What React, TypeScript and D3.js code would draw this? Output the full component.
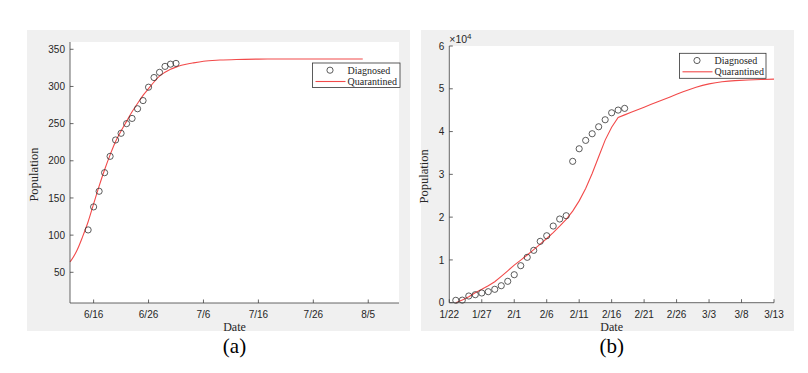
import React from 'react'
import * as d3 from 'd3'

// ---- panel (a): x = days after 6/16 ----
const aTickDays = [0, 10, 20, 30, 40, 50]
const aTickLabels = ['6/16', '6/26', '7/6', '7/16', '7/26', '8/5']
const aYTicks = [50, 100, 150, 200, 250, 300, 350]
const aDiagDays = [-1, 0, 1, 2, 3, 4, 5, 6, 7, 8, 9, 10, 11, 12, 13, 14, 15]
const aDiagnosed = [107, 138, 159, 184, 206, 228, 237, 250, 257, 270, 281, 299, 312, 319, 327, 330, 331]
const aQuarDays = [-4.3, -4, -3, -2, -1, 0, 1, 2, 3, 4, 5, 6, 7, 8, 9, 10, 11, 12, 13, 14, 15, 16, 18, 20, 23, 26, 30, 35, 40, 45, 49]
const aQuarantined = [64, 67, 80, 98, 118, 142, 166, 188, 208, 226, 240, 253, 266, 277, 288, 297, 306, 314, 319, 323, 326, 328.5, 331.5, 334, 335.5, 336.3, 336.8, 337, 337, 337, 337]

// ---- panel (b): x = days after 1/22 ----
const bTickDays = [0, 5, 10, 15, 20, 25, 30, 35, 40, 45, 50]
const bTickLabels = ['1/22', '1/27', '2/1', '2/6', '2/11', '2/16', '2/21', '2/26', '3/3', '3/8', '3/13']
const bYTicks = [0, 10000, 20000, 30000, 40000, 50000, 60000]
const bDiagDays = [1, 2, 3, 4, 5, 6, 7, 8, 9, 10, 11, 12, 13, 14, 15, 16, 17, 18, 19, 20, 21, 22, 23, 24, 25, 26, 27]
const bDiagnosed = [560, 600, 1565, 1870, 2270, 2570, 3130, 3970, 5000, 6540, 8650, 10610, 12240, 14340, 15650, 17920, 19560, 20330, 33040, 35980, 37940, 39490, 41120, 42760, 44390, 45020, 45420]
const bQuarDays = [1, 2, 3, 4, 5, 6, 7, 8, 9, 10, 11, 12, 13, 14, 15, 16, 17, 18, 19, 20, 21, 22, 23, 24, 25, 26, 27, 28, 29, 30, 31, 32, 33, 34, 35, 36, 37, 38, 39, 40, 41, 42, 43, 44, 46, 48, 50]
const bQuarantined = [0, 630, 1400, 2340, 3130, 3970, 4900, 6150, 7450, 8800, 9950, 11150, 12400, 13700, 15000, 16400, 17900, 19500, 21400, 23800, 26700, 30200, 34100, 38000, 41000, 43300, 43900, 44500, 45100, 45700, 46300, 46900, 47500, 48100, 48700, 49300, 49850, 50350, 50800, 51150, 51420, 51630, 51790, 51900, 52060, 52180, 52250]

const SERIF = '"Liberation Serif", "Times New Roman", serif'
const SANS = '"Liberation Sans", Arial, sans-serif'
const AXIS = '#404040'
const TXT = '#262626'
const RED = '#f24a4a'

type PanelProps = {
  bg: [number, number, number, number]
  plot: [number, number, number, number] // left, top, right, bottom
  xDomain: [number, number]
  yDomain: [number, number]
  xTicks: number[]
  xLabels: string[]
  yTicks: number[]
  yFormat: (v: number) => string
  yLabelOffset: number
  diagX: number[]
  diagY: number[]
  quarX: number[]
  quarY: number[]
  curve: d3.CurveFactory
  legend: [number, number, number, number]
  exponent?: boolean
  caption: string
}

function Panel(p: PanelProps) {
  const [l, t, r, b] = p.plot
  const x = d3.scaleLinear().domain(p.xDomain).range([l, r])
  const y = d3.scaleLinear().domain(p.yDomain).range([b, t])
  const pts = p.quarX.map((d, i) => [d, p.quarY[i]] as [number, number])
  const line = d3.line<[number, number]>()
    .x(d => x(d[0]))
    .y(d => y(d[1]))
    .curve(p.curve)
  const [lx, ly, lw, lh] = p.legend
  const cx = (l + r) / 2

  return (
    <g>
      <rect x={p.bg[0]} y={p.bg[1]} width={p.bg[2]} height={p.bg[3]} fill="#f0f0f0" />
      <rect x={l} y={t} width={r - l} height={b - t} fill="#ffffff" />

      {/* quarantined curve */}
      <path d={line(pts) || ''} fill="none" stroke={RED} strokeWidth={1.1} />

      {/* diagnosed circles */}
      {p.diagX.map((d, i) => (
        <circle key={i} cx={x(d)} cy={y(p.diagY[i])} r={3.1} fill="none" stroke="#333" strokeWidth={0.8} />
      ))}

      {/* axes */}
      <line x1={l} x2={r} y1={b} y2={b} stroke={AXIS} strokeWidth={0.8} />
      <line x1={l} x2={l} y1={t} y2={b} stroke={AXIS} strokeWidth={0.8} />
      {p.xTicks.map((d, i) => (
        <g key={i}>
          <line x1={x(d)} x2={x(d)} y1={b} y2={b - 3.5} stroke={AXIS} strokeWidth={0.8} />
          <text x={x(d)} y={b + 15} textAnchor="middle" fontFamily={SANS} fontSize={10} fill={TXT}>
            {p.xLabels[i]}
          </text>
        </g>
      ))}
      {p.yTicks.map((d, i) => (
        <g key={i}>
          <line x1={l} x2={l + 3.5} y1={y(d)} y2={y(d)} stroke={AXIS} strokeWidth={0.8} />
          <text x={l - 5} y={y(d) + 3.6} textAnchor="end" fontFamily={SANS} fontSize={10} fill={TXT}>
            {p.yFormat(d)}
          </text>
        </g>
      ))}
      {p.exponent && (
        <text x={l} y={t - 3} fontFamily={SANS} fontSize={10.5} fill={TXT}>
          ×10<tspan dy={-4.5} fontSize={8}>4</tspan>
        </text>
      )}

      {/* axis labels */}
      <text x={cx} y={b + 28} textAnchor="middle" fontFamily={SERIF} fontSize={12} fill={TXT}>Date</text>
      <text transform={`translate(${l - p.yLabelOffset},${(t + b) / 2 + 2}) rotate(-90)`} textAnchor="middle"
        fontFamily={SERIF} fontSize={12.5} fill={TXT}>Population</text>

      {/* legend */}
      <rect x={lx} y={ly} width={lw} height={lh} fill="#fff" stroke="#333" strokeWidth={0.8} />
      <circle cx={lx + 17.5} cy={ly + 7.2} r={3.1} fill="none" stroke="#333" strokeWidth={0.8} />
      <line x1={lx + 3} x2={lx + 33} y1={ly + 18.5} y2={ly + 18.5} stroke={RED} strokeWidth={1.1} />
      <text x={lx + 35} y={ly + 10.5} fontFamily={SERIF} fontSize={10} fill={TXT}>Diagnosed</text>
      <text x={lx + 35} y={ly + 21.5} fontFamily={SERIF} fontSize={10} fill={TXT}>Quarantined</text>

      {/* caption */}
      <text x={cx} y={353} textAnchor="middle" fontFamily={SERIF} fontSize={21} fill="#000">{p.caption}</text>
    </g>
  )
}

export default function App() {
  return (
    <svg width={808} height={373} style={{ position: 'absolute', left: 0, top: 0, background: '#fff' }}>
      <Panel
        bg={[27, 30, 383, 301]}
        plot={[70, 42, 399, 303]}
        xDomain={[-4.3, 55.6]}
        yDomain={[8.7, 359.8]}
        xTicks={aTickDays}
        xLabels={aTickLabels}
        yTicks={aYTicks}
        yFormat={d => String(d)}
        yLabelOffset={32}
        diagX={aDiagDays}
        diagY={aDiagnosed}
        quarX={aQuarDays}
        quarY={aQuarantined}
        curve={d3.curveMonotoneX}
        legend={[312.5, 63, 87.5, 24.5]}
        caption="(a)"
      />
      <Panel
        bg={[421, 30, 373, 301]}
        plot={[449.3, 46, 774, 302.7]}
        xDomain={[0, 50]}
        yDomain={[0, 60000]}
        xTicks={bTickDays}
        xLabels={bTickLabels}
        yTicks={bYTicks}
        yFormat={d => String(d / 10000)}
        yLabelOffset={21}
        diagX={bDiagDays}
        diagY={bDiagnosed}
        quarX={bQuarDays}
        quarY={bQuarantined}
        curve={d3.curveLinear}
        legend={[679.5, 53.3, 86.5, 25]}
        exponent
        caption="(b)"
      />
    </svg>
  )
}
